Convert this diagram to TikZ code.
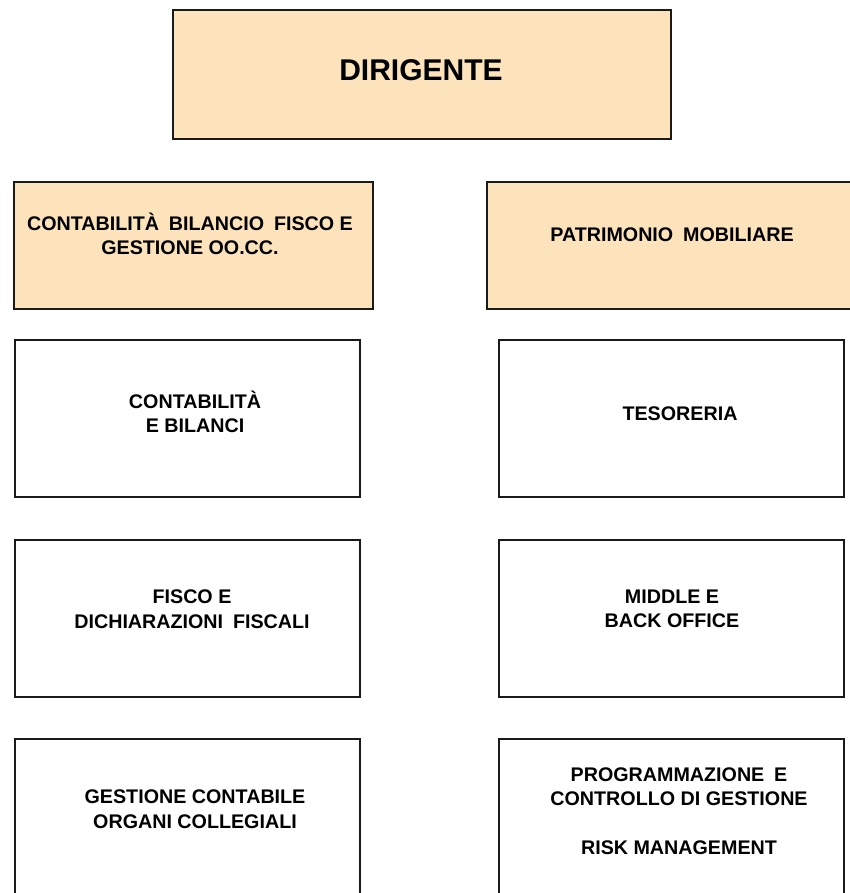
\documentclass[tikz,border=0pt]{standalone}
\usepackage{fontspec}
\setmainfont{Liberation Sans}
\definecolor{arancio}{HTML}{FCE3BB}
\definecolor{bordo}{HTML}{1A1A1A}
\newcommand\pagewidth{850}
\newcommand\pageheight{893}
\newcommand\boxwidth{345pt}
\newcommand\boxheight{157pt}
\newcommand\largo{\hspace{0.5em}}
\tikzset{
	ufficio/.style = {draw = bordo, line width = 1.8pt, inner sep = 0pt, anchor = north west},
	ufficiobianco/.style = {ufficio, minimum width = \boxwidth, minimum height = \boxheight},
	testo/.style = {align = center, inner sep = 0pt, font = \fontsize{19.7}{24.5}\selectfont\bfseries},
	titolo/.style = {inner sep = 0pt, font = \fontsize{30}{36}\selectfont\bfseries}
}

\begin{document}
\begin{tikzpicture}[x = 1pt, y = -1pt]
	\clip (0, 0) rectangle (\pagewidth, \pageheight);

	% Dirigente:
	\node [ufficio, fill = arancio, minimum width = 498pt, minimum height = 129pt] (dirigente) at (172, 9) {};
	\node [titolo] (dirigente-testo) at (421, 70) {DIRIGENTE};

	% Aree:
	\node [ufficio, fill = arancio, minimum width = 359pt, minimum height = 127pt] (contabilita) at (13, 181) {};
	\node [testo] (contabilita-testo) at (190, 234) {CONTABILITÀ\largo BILANCIO\largo FISCO E\\GESTIONE OO.CC.};
	\node [ufficio, fill = arancio, minimum width = 372pt, minimum height = 127pt] (patrimonio) at (486, 181) {};
	\node [testo] (patrimonio-testo) at (672, 235) {PATRIMONIO\largo MOBILIARE};

	% Uffici, le posizioni del testo sono messe a mano
	\node [ufficiobianco] (bilanci) at (14, 339) {};
	\node [testo] (bilanci-testo) at (195, 412) {CONTABILITÀ\\E BILANCI};
	\node [ufficiobianco] (tesoreria) at (498, 339) {};
	\node [testo] (tesoreria-testo) at (680, 414) {TESORERIA};

	\node [ufficiobianco] (fisco) at (14, 539) {};
	\node [testo] (fisco-testo) at (192, 609) {FISCO E\\DICHIARAZIONI\largo FISCALI};
	\node [ufficiobianco] (middle) at (498, 539) {};
	\node [testo] (middle-testo) at (672, 609) {MIDDLE E\\BACK OFFICE};

	\node [ufficiobianco] (organi) at (14, 738) {};
	\node [testo] (organi-testo) at (195, 809) {GESTIONE CONTABILE\\ORGANI COLLEGIALI};
	\node [ufficiobianco] (controllo) at (498, 738) {};
	\node [testo] (controllo-testo) at (679, 811) {PROGRAMMAZIONE\largo E\\CONTROLLO DI GESTIONE\\[24.5pt]RISK MANAGEMENT};
\end{tikzpicture}
\end{document}
